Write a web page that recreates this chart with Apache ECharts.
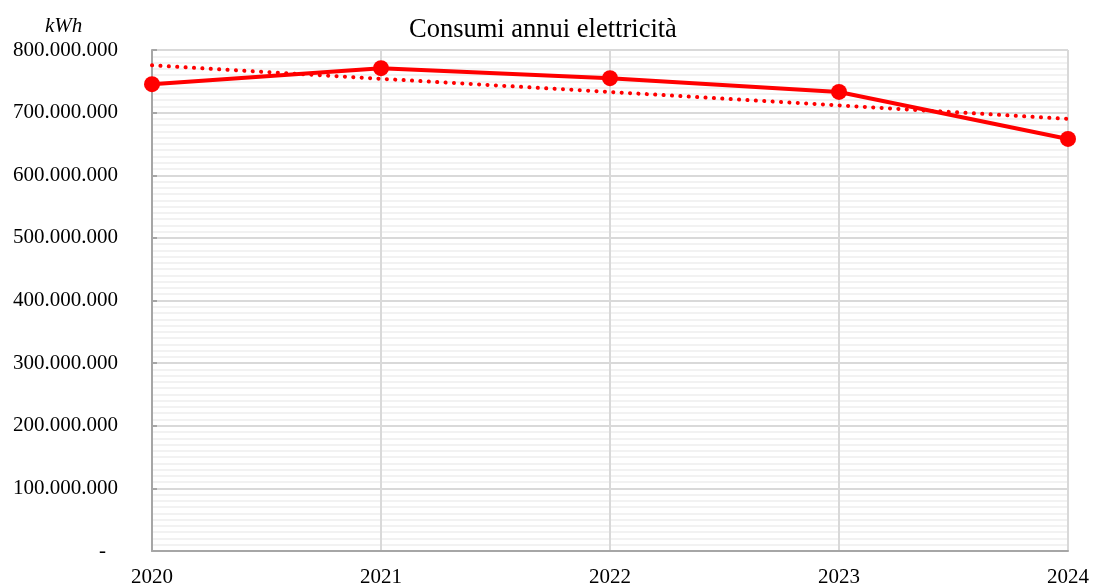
<!DOCTYPE html>
<html><head><meta charset="utf-8">
<script src="https://cdn.jsdelivr.net/npm/echarts@6/dist/echarts.min.js"></script>
<style>html,body{margin:0;padding:0;background:#fff}#c{width:1093px;height:586px}</style>
</head><body><div id="c"></div>
<script>
const years = ['2020', '2021', '2022', '2023', '2024'];
const consumi = [745500000, 771000000, 755000000, 733000000, 658000000];
const tendenza = [775500000, 754000000, 733000000, 711500000, 690000000];
const titolo = 'Consumi annui elettricità';
const unita = 'kWh';

function fmt(v) {
  if (v === 0) return '{z|-}';
  return String(Math.round(v)).replace(/\B(?=(\d{3})+(?!\d))/g, '.');
}
const font = '"Liberation Serif", "Times New Roman", serif';
const chart = echarts.init(document.getElementById('c'), null, {renderer: 'canvas'});
chart.setOption({
  animation: false,
  backgroundColor: '#fff',
  title: {text: titolo, left: 404, top: 12,
    textStyle: {fontFamily: font, fontSize: 26.5, fontWeight: 'normal', color: '#000'}},
  graphic: [{type: 'text', left: 45, top: 16,
    style: {text: unita, fontFamily: font, fontSize: 21, fontStyle: 'italic', fill: '#000'}}],
  grid: {left: 152, right: 25, top: 50, bottom: 35, containLabel: false, outerBoundsMode: 'none'},
  xAxis: {type: 'category', data: years, boundaryGap: false,
    axisLine: {lineStyle: {color: '#a6a6a6', width: 2}},
    axisTick: {show: false},
    splitLine: {show: true, lineStyle: {color: '#d9d9d9', width: 2}},
    axisLabel: {fontFamily: font, fontSize: 21, color: '#000', margin: 16}},
  yAxis: {type: 'value', min: 0, max: 800000000, interval: 100000000,
    axisLine: {show: true, lineStyle: {color: '#a6a6a6', width: 2}},
    axisTick: {show: true, inside: true, length: 5, lineStyle: {color: '#a6a6a6', width: 2}},
    splitLine: {show: true, lineStyle: {color: '#d9d9d9', width: 2}},
    minorTick: {show: false, splitNumber: 10},
    minorSplitLine: {show: true, lineStyle: {color: '#f2f2f2', width: 2}},
    axisLabel: {fontFamily: font, fontSize: 21, color: '#000', margin: 34, formatter: fmt,
      rich: {z: {fontFamily: font, fontSize: 21, color: '#000', padding: [0, 12, 0, 0]}}}},
  series: [
    {name: 'Consumi', type: 'line', data: consumi, symbol: 'circle', symbolSize: 16,
     itemStyle: {color: '#ff0000'}, lineStyle: {color: '#ff0000', width: 4}, z: 3},
    {name: 'Tendenza', type: 'line', data: tendenza, symbol: 'none',
     lineStyle: {color: '#ff0000', width: 4, type: [0.1, 8.3], cap: 'round'}, z: 2}
  ]
});
</script></body></html>
